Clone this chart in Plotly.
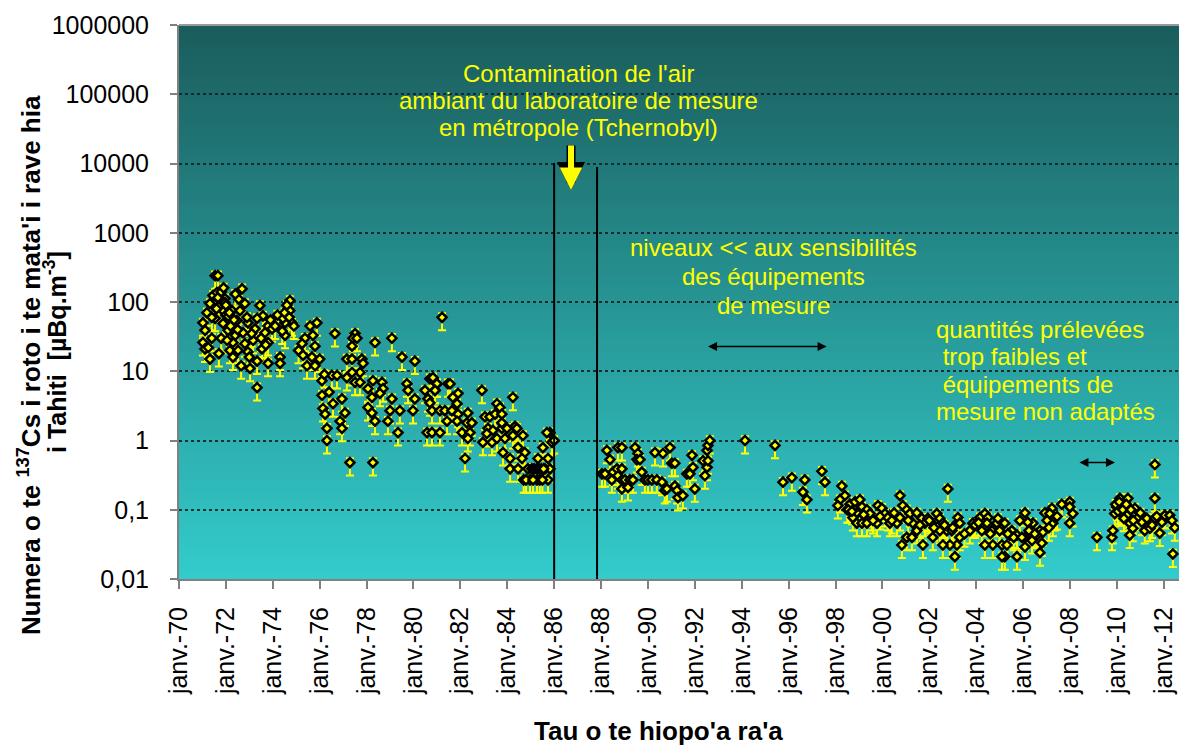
import math
import plotly.graph_objects as go

# ---------------- data (decimal year, µBq/m3) ----------------
years_a = [1971.54,1971.66,1971.45,1971.32,1971.19,1971.02,1971.11,1971.02,1971.11,1971.32,
           1971.54,1971.88,1971.75,1971.96,1971.88,1972.26,1972.69,1972.60,1972.81,1972.47,
           1972.09,1972.30,1972.17,1972.30,1972.52,1972.73,1972.94,1972.81,1972.94,1973.03,
           1973.33,1973.24,1973.45,1973.58,1973.33,1973.16,1973.54,1973.33,1973.80,1973.97,
           1973.67,1973.80,1973.80,1974.31,1974.31,1974.73,1974.65,1974.82,1974.52,1974.52,
           1974.43,1974.73,1971.62,1971.66,1971.96,1972.00,1972.20,1971.40,1971.80,1972.40,
           1972.10,1971.70,1972.55,1971.40,1971.60,1971.80,1971.90,1972.00,1972.15,1972.35,
           1972.40,1972.50,1972.90,1973.10,1973.50,1973.90,1974.10,1974.20,1974.50,1974.60,
           1974.70,1974.90,1975.10,1971.25,1971.70,1972.05,1972.65,1973.00,1973.70,1974.40]
cs_a = [240,240,124,95,70,50,39,26,21,15,
        58,49,105,112,75,75,155,75,95,54,
        39,26,20,16,20,36,50,25,19,11,
        5.8,41,89,63,58,28,21,14,45,41,
        36,13,26,16,13,105,80,50,50,33,
        58,75,137,116,98,65,45,30,30,33,
        62,85,110,60,80,140,160,90,70,55,
        130,40,60,35,30,55,45,65,70,90,
        60,45,20,22,18,28,12,16,24,38]

years_b = [1975.88,1975.59,1975.71,1975.37,1975.25,1975.80,1975.29,1975.67,1975.46,1975.80,
           1976.65,1977.51,1977.42,1977.59,1977.38,1978.36,1979.08,1979.51,1980.06,1981.22,
           1977.16,1977.38,1977.80,1977.85,1977.72,1977.38,1977.16,1977.51,1977.72,1976.52,
           1976.74,1976.10,1976.10,1976.14,1976.23,1976.95,1976.57,1977.08,1976.87,1976.95,
           1976.31,1976.31,1977.29,1978.27,1978.06,1978.27,1978.66,1978.70,1978.57,1978.23,
           1978.06,1978.23,1978.36,1978.91,1979.08,1979.00,1979.34,1979.42,1979.72,1979.77,
           1980.06,1979.98,1980.49,1980.62,1980.70,1980.83,1981.00,1980.70,1980.79,1981.13,
           1981.34,1981.43,1980.58,1980.79,1981.13,1980.92,1981.47,1976.00,1976.20,1976.40]
cs_b = [50,45,33,30,25,23,17,16,12,12,
        35,35,30,30,23,26,30,16,14,60,
        15,15,15,13,9.6,9.6,8.1,6.9,6.9,8.7,
        8.7,7.3,4.5,2.9,2.4,4.0,3.4,2.5,1.9,1.5,
        1.5,1.0,0.48,0.48,5.6,7.3,6.9,5.6,4.8,4.2,
        3.0,2.5,1.9,1.9,4.0,2.7,1.3,2.7,6.6,5.3,
        4.0,2.7,5.3,4.0,7.8,7.8,6.6,3.5,2.7,2.7,
        2.7,1.9,1.3,1.3,1.3,5.3,6.6,15,9,5]

years_c = [1980.83,1981.00,1980.92,1981.56,1981.90,1981.68,1981.86,1982.92,1984.24,1981.64,
           1982.32,1981.90,1981.86,1982.28,1982.49,1982.07,1982.41,1982.32,1982.20,1983.05,
           1983.26,1983.56,1983.69,1983.48,1983.77,1983.18,1983.39,1983.13,1982.96,1983.35,
           1983.56,1983.77,1983.90,1983.99,1983.77,1984.33,1984.41,1984.24,1984.46,1984.67,
           1984.75,1984.63,1983.82,1984.12,1984.12,1984.46,1984.88,1985.05,1985.61,1985.82,
           1984.97,1985.27,1985.39,1985.74,1985.52,1985.31,1985.74,1985.82,1985.69,1985.91,
           1985.15,1985.25,1985.35,1985.45,1985.55,1984.70,1984.80,1985.10,1985.50,1986.00]
cs_c = [8.1,6.6,5.3,6.6,4.8,4.2,3.4,5.3,4.2,2.7,
        2.5,2.4,1.9,1.8,1.8,1.3,1.3,1.07,0.55,2.2,
        2.2,3.4,3.0,2.4,2.4,1.5,1.4,1.26,0.94,0.94,
        1.07,1.5,1.07,1.5,1.8,1.6,1.5,1.18,0.79,1.18,
        0.67,0.55,0.67,0.55,0.39,0.39,0.39,0.39,0.39,0.39,
        0.27,0.27,0.27,0.27,0.79,0.55,0.55,1.3,1.3,0.94,
        0.39,0.39,0.39,0.39,0.39,0.27,0.27,0.27,0.27,1.0]

years_d = [1988.25,1988.38,1988.72,1988.89,1988.04,1988.17,1988.51,1988.68,1988.89,1988.72,
           1988.46,1988.89,1989.02,1989.23,1989.36,1988.89,1989.15,1989.45,1989.57,1989.53,
           1989.66,1989.74,1989.87,1990.00,1990.17,1990.38,1990.60,1990.30,1990.64,1990.94,
           1991.02,1991.15,1990.72,1990.81,1991.15,1991.24,1991.28,1991.49,1991.66,1991.79,
           1991.92,1991.88,1992.00,1992.43,1992.35,1992.52,1992.56,1992.52,1992.56,1992.64]
cs_d = [0.72,0.53,0.79,0.79,0.33,0.33,0.35,0.39,0.39,0.31,
        0.27,0.27,0.27,0.27,0.27,0.2,0.21,0.79,0.65,0.53,
        0.53,0.35,0.27,0.27,0.27,0.27,0.25,0.67,0.65,0.79,
        0.47,0.47,0.19,0.2,0.22,0.19,0.15,0.16,0.33,0.33,
        0.41,0.61,0.2,0.31,0.51,0.41,0.51,0.72,0.85,1.0]

years_e = [1994.14,1995.42,1995.76,1996.14,1996.69,1996.61,1996.78,1997.42,1997.55]
cs_e = [1.0,0.85,0.25,0.29,0.27,0.18,0.14,0.36,0.25]

years_f = [1998.27,1998.40,1998.19,1998.10,1998.61,1998.83,1999.04,1999.13,1999.34,1998.91,
           1998.74,1998.91,1999.13,1999.34,1999.55,1999.77,1999.47,1999.81,1999.98,2000.11,
           2000.23,2000.32,2000.62,2000.75,2000.87,2001.04,2001.17,2001.47,2001.30,2001.47,
           2001.04,2001.26,2000.83,2000.75,2001.68,2001.81,2001.94,2002.11,2002.32,2002.45,
           2002.15,2001.73,2002.58,2002.75,2002.45,2002.96,2003.18,2003.22,2003.30,2003.09,
           2003.18,2002.88,2002.58,2003.30,2002.79,2003.73,2003.86,2004.16,2004.37,2004.50,
           2004.46,2004.67,2004.71,2004.37,2004.88,2004.24,2004.93,2005.22,2005.52,2005.74,
           2006.08,2005.44,2005.10,2005.31,2005.74,2005.22,2005.10,2006.08,2006.38,2006.42,
           2006.72,2006.84,2006.59,2006.80,2006.72,2006.93,2007.23,2007.14,2007.27,2007.02,
           2007.36,2006.08,2005.86,2006.20,2007.65,2007.99,2008.12,2007.99,2007.99,1998.50,
           1998.55,1998.70,1999.20,1999.60,1999.90,2000.40,2000.50,2001.10,2001.60,2002.00,
           2002.20,2002.65,2003.00,2003.50,2003.95,2004.10,2004.60,2005.00,2005.35,2005.60,
           2005.95,2006.25,2006.50,2007.10,2007.45]
cs_f = [0.22,0.16,0.14,0.115,0.12,0.13,0.14,0.11,0.1,0.09,
        0.077,0.064,0.064,0.064,0.077,0.064,0.088,0.115,0.105,0.088,
        0.077,0.064,0.064,0.077,0.115,0.1,0.088,0.09,0.064,0.05,
        0.04,0.04,0.031,0.16,0.075,0.064,0.075,0.064,0.088,0.075,
        0.04,0.031,0.064,0.05,0.05,0.05,0.064,0.077,0.064,0.021,
        0.031,0.031,0.031,0.04,0.2,0.05,0.064,0.077,0.088,0.077,
        0.064,0.05,0.031,0.031,0.064,0.05,0.075,0.064,0.05,0.043,
        0.04,0.043,0.031,0.031,0.021,0.021,0.021,0.029,0.036,0.064,
        0.05,0.047,0.043,0.033,0.024,0.09,0.105,0.088,0.064,0.07,
        0.077,0.09,0.07,0.066,0.12,0.13,0.088,0.11,0.064,0.1,
        0.1,0.095,0.085,0.07,0.08,0.07,0.09,0.07,0.06,0.07,
        0.055,0.06,0.055,0.045,0.06,0.065,0.045,0.05,0.045,0.04,
        0.04,0.05,0.045,0.055,0.08]

years_g = [2009.15,2009.79,2009.83,2010.13,2010.47,2010.00,2009.91,2010.21,2010.34,2010.43,
           2010.55,2010.77,2010.68,2010.55,2010.90,2011.07,2011.28,2011.19,2011.41,2011.62,
           2011.62,2011.62,2011.83,2012.05,2012.26,2011.92,2012.35,2012.47,2012.39,2009.95,
           2010.05,2010.10,2010.25,2010.30,2010.60,2010.70,2011.00,2011.50,2011.70,2010.40]
cs_g = [0.04,0.04,0.05,0.146,0.146,0.11,0.088,0.09,0.115,0.083,
        0.064,0.105,0.054,0.043,0.077,0.066,0.075,0.05,0.054,0.075,
        0.146,0.45,0.046,0.083,0.083,0.066,0.07,0.055,0.023,0.12,
        0.095,0.13,0.1,0.075,0.1,0.07,0.09,0.06,0.08,0.12]

x_tick_years = list(range(1970, 2013, 2))
x_tick_labels = ["janv.-%02d" % (y % 100) for y in x_tick_years]
y_tick_vals = [0.01, 0.1, 1, 10, 100, 1000, 10000, 100000, 1000000]
y_tick_labels = ["0,01", "0,1", "1", "10", "100", "1000", "10000", "100000", "1000000"]

chernobyl_start = 1986.0
chernobyl_end = 1987.83

# ---------------- layout geometry ----------------
W, H = 1179, 747
L, R, T, B = 179, 0, 25, 168
PW, PH = W - L - R, H - T - B

def px(xp):
    return (xp - L) / PW

def py(yp):
    return (H - B - yp) / PH

years = years_a + years_b + years_c + years_d + years_e + years_f + years_g
values = cs_a + cs_b + cs_c + cs_d + cs_e + cs_f + cs_g

fig = go.Figure()
fig.add_trace(go.Scatter(
    x=years, y=values, mode="markers",
    marker=dict(symbol="diamond", size=7, color="#FFFF00",
                line=dict(color="#000000", width=2.5)),
    error_y=dict(type="percent", symmetric=False, value=15, valueminus=35,
                 color="#FFFF00", thickness=2, width=4),
    showlegend=False, hoverinfo="x+y",
))

shapes = []
# background gradient
n = 90
top = (27, 92, 92)
bot = (51, 204, 204)
for i in range(n):
    t = (i + 0.5) / n
    c = tuple(int(round(bot[k] + (top[k] - bot[k]) * t)) for k in range(3))
    shapes.append(dict(type="rect", xref="paper", yref="paper", x0=0, x1=1,
                       y0=i / n, y1=min(1, (i + 1) / n + 0.002), layer="below",
                       fillcolor="rgb(%d,%d,%d)" % c, line=dict(width=0)))
# top frame line
shapes.append(dict(type="line", xref="paper", yref="paper", x0=0, x1=1, y0=1, y1=1,
                   line=dict(color="#9a9a9a", width=2)))
# Chernobyl vertical lines
shapes.append(dict(type="line", xref="x", yref="paper", x0=chernobyl_start, x1=chernobyl_start,
                   y0=0, y1=py(163), line=dict(color="#000000", width=2)))
shapes.append(dict(type="line", xref="x", yref="paper", x0=chernobyl_end, x1=chernobyl_end,
                   y0=0, y1=py(167), line=dict(color="#000000", width=2)))

annotations = []
FONT = "Liberation Sans, Arial, sans-serif"
yellow = "#FFFF00"

def line_annots(lines, xc, ys, anchor="center", size=24):
    for txt, yy in zip(lines, ys):
        annotations.append(dict(text=txt, xref="paper", yref="paper", x=px(xc), y=py(yy),
                                xanchor=anchor, yanchor="middle", showarrow=False,
                                font=dict(family=FONT, size=size, color=yellow)))

line_annots(["Contamination de l'air", "ambiant du laboratoire de mesure",
             "en métropole (Tchernobyl)"], 578, [73, 101, 128])
line_annots(["niveaux &lt;&lt; aux sensibilités", "des équipements", "de mesure"],
            773, [248, 276, 305])
line_annots(["quantités prélevées", "\u00a0trop faibles et", "\u00a0équipements de",
             "mesure non adaptés"], 934, [329, 356, 384, 412], anchor="left")

# yellow arrow with black outline
for col, w, s in (("#000000", 9, 0.62), (yellow, 6, 0.75)):
    annotations.append(dict(x=1986.72, y=py(190), xref="x", yref="paper", ax=0, ay=-46,
                            text="", showarrow=True, arrowhead=2, arrowsize=s,
                            arrowwidth=w, arrowcolor=col))

# double arrows
for xa, xb, yv in ((1992.50, 1997.62, 22.7), (2008.34, 2009.92, 0.48)):
    annotations.append(dict(x=xb, y=math.log10(yv), xref="x", yref="y",
                            ax=xa, ay=math.log10(yv), axref="x", ayref="y",
                            text="", showarrow=True, arrowhead=2, arrowside="end+start",
                            arrowsize=1.2, arrowwidth=1.5, arrowcolor="#000000"))

# axis titles
annotations.append(dict(text="<b>Numera o te <sup>137</sup>Cs i roto i te mata'i i rave hia</b>",
                        xref="paper", yref="paper", x=px(29), y=py(365), textangle=-90,
                        xanchor="center", yanchor="middle", showarrow=False,
                        font=dict(family=FONT, size=26, color="#000000")))
annotations.append(dict(text="<b>i Tahiti\u00a0\u00a0[µBq.m<sup>-3</sup>]</b>",
                        xref="paper", yref="paper", x=px(55), y=py(352), textangle=-90,
                        xanchor="center", yanchor="middle", showarrow=False,
                        font=dict(family=FONT, size=25, color="#000000")))
annotations.append(dict(text="<b>Tau o te hiopo'a ra'a</b>", xref="paper", yref="paper",
                        x=px(658), y=py(731), xanchor="center", yanchor="middle",
                        showarrow=False, font=dict(family=FONT, size=26, color="#000000")))

fig.update_layout(
    width=W, height=H,
    margin=dict(l=L, r=R, t=T, b=B, pad=0, autoexpand=False),
    paper_bgcolor="#FFFFFF", plot_bgcolor="rgb(51,204,204)",
    font=dict(family=FONT, color="#000000"),
    shapes=shapes, annotations=annotations,
    xaxis=dict(range=[1970, 2012.65], tickvals=x_tick_years, ticktext=x_tick_labels,
               tickangle=-90, tickfont=dict(size=25, color="#000000"), automargin=False,
               showgrid=False, zeroline=False, showline=True, linecolor="#808080",
               linewidth=2, ticks="outside", ticklen=8, tickcolor="#808080", tickwidth=2,
               ticklabelstandoff=8),
    yaxis=dict(type="log", range=[-2, 6], tickvals=y_tick_vals, ticktext=y_tick_labels,
               tickfont=dict(size=25, color="#000000"), automargin=False,
               showgrid=True, gridcolor="rgba(15,35,35,0.9)", griddash="dot", gridwidth=1.5,
               zeroline=False, showline=True, linecolor="#808080", linewidth=2,
               ticks="outside", ticklen=7, tickcolor="#808080", tickwidth=2,
               ticklabelstandoff=16),
)

fig.write_html(
    "out.html",
    config={"displayModeBar": False},
    post_script="document.body.style.margin='0';document.body.style.padding='0';"
                "document.documentElement.style.overflow='hidden';",
)
